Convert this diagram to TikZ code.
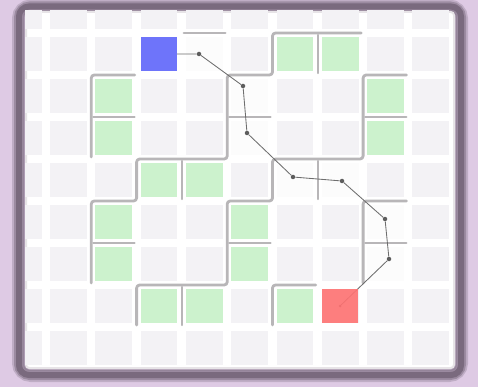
\documentclass[tikz,border=0pt]{standalone}
\definecolor{bgc}{RGB}{222,202,228}
\definecolor{framec}{RGB}{122,106,126}
\definecolor{basec}{RGB}{243,242,245}
\definecolor{litec}{RGB}{252,252,252}
\definecolor{greenc}{RGB}{204,242,205}
\definecolor{bluec}{RGB}{110,116,250}
\definecolor{redc}{RGB}{255,114,114}
\definecolor{wallc}{RGB}{184,182,184}
\definecolor{pathc}{RGB}{110,110,110}
\begin{document}
\begin{tikzpicture}[x=1pt,y=-1pt,
  wall/.style={draw=wallc, line width=2.8pt, line cap=round, line join=round, rounded corners=3pt, shorten <=2pt, shorten >=2pt},
  innerwall/.style={draw=wallc, line width=2.2pt, line cap=round, shorten <=2pt, shorten >=2pt},
  route/.style={draw=pathc, line width=0.85pt},
  dot/.style={circle, fill=pathc!85!black, inner sep=0pt, minimum size=4.5pt}]
\useasboundingbox (0,0) rectangle (478,387);
\fill[bgc] (0,0) rectangle (478,387);
% frame
\draw[framec, opacity=0.3, line width=14pt, rounded corners=12pt] (19,6.5) rectangle (461,375);
\draw[framec, opacity=0.5, line width=10pt, rounded corners=11pt] (19,6.5) rectangle (461,375);
\draw[framec, line width=6pt, rounded corners=10pt] (19,6.5) rectangle (461,375);
\fill[white, rounded corners=4pt] (25,11) rectangle (455,369);
\draw[framec, opacity=0.18, line width=4pt, rounded corners=4pt] (25,11) rectangle (455,369);
% cells
\begin{scope}
\clip (25,11) rectangle (455,369);
\foreach \c in {0,...,9} \foreach \r in {0,...,8} {
  \fill[basec] ({45.3*\c+4.7},{42*\r-5}) rectangle ({45.3*\c+41.5},{42*\r+29});
}
\foreach \c/\r in {4/1,5/2,5/3,6/4,7/4,8/5,8/6} {
  \fill[litec] ({45.3*\c+4.7},{42*\r-5}) rectangle ({45.3*\c+41.5},{42*\r+29});
}
\foreach \c/\r in {6/1,7/1,2/2,2/3,8/2,8/3,3/4,4/4,2/5,2/6,5/5,5/6,3/7,4/7,6/7} {
  \fill[greenc] ({45.3*\c+4.7},{42*\r-5}) rectangle ({45.3*\c+41.5},{42*\r+29});
}
\end{scope}
% walls
\begin{scope}[shift={(0.7,-9)}, x=45.3pt, y=-42pt]
\draw[wall] (4,1) -- (5,1);
\draw[wall] (3,2) -- (2,2) -- (2,4);
\draw[innerwall] (2,3) -- (3,3);
\draw[wall] (8,1) -- (6,1) -- (6,2) -- (5,2) -- (5,4) -- (3,4) -- (3,5) -- (2,5) -- (2,7);
\draw[innerwall] (7,1) -- (7,2);
\draw[innerwall] (5,3) -- (6,3);
\draw[innerwall] (4,4) -- (4,5);
\draw[innerwall] (2,6) -- (3,6);
\draw[wall] (9,2) -- (8,2) -- (8,4) -- (6,4) -- (6,5) -- (5,5) -- (5,7) -- (3,7) -- (3,8);
\draw[innerwall] (8,3) -- (9,3);
\draw[innerwall] (7,4) -- (7,5);
\draw[innerwall] (5,6) -- (6,6);
\draw[innerwall] (4,7) -- (4,8);
\draw[wall] (9,5) -- (8,5) -- (8,7);
\draw[innerwall] (8,6) -- (9,6);
\draw[wall] (7,7) -- (6,7) -- (6,8);
\end{scope}
% route
\coordinate (sc) at (159,54);
\coordinate (ec) at (340,306);
\node[dot] (p1) at (199,54) {};
\node[dot] (p2) at (243,86) {};
\node[dot] (p3) at (247,133) {};
\node[dot] (p4) at (293,177) {};
\node[dot] (p5) at (342,181) {};
\node[dot] (p6) at (385,219) {};
\node[dot] (p7) at (389,259) {};
\node[dot, minimum size=3pt] (pe) at (ec) {};
\draw[route] (sc) -- (p1) -- (p2) -- (p3) -- (p4) -- (p5) -- (p6) -- (p7) -- (pe);
% start and end cells
\node[fill=bluec, inner sep=0pt, minimum width=36.8pt, minimum height=34pt] (start) at (sc) {};
\node[fill=redc, fill opacity=0.9, inner sep=0pt, minimum width=36.8pt, minimum height=34pt] (goal) at (ec) {};
\end{tikzpicture}
\end{document}
